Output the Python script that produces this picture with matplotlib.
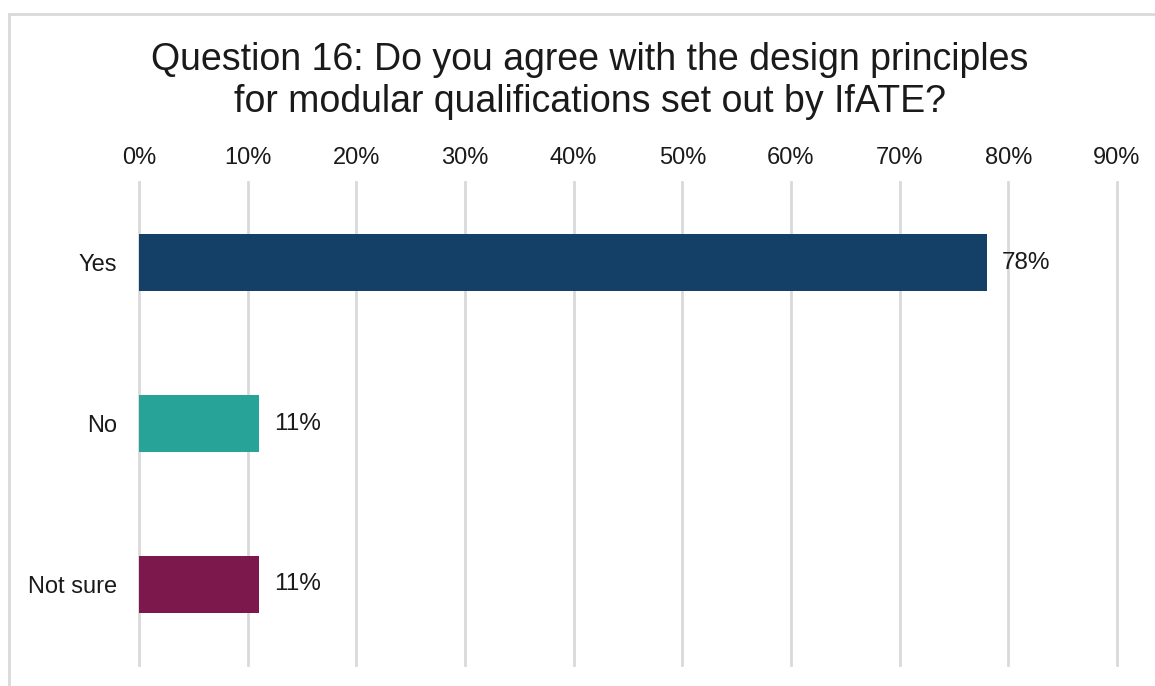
import matplotlib.pyplot as plt
from matplotlib.patches import Rectangle
from matplotlib.ticker import PercentFormatter

plt.rcParams['font.family'] = ['Liberation Sans', 'DejaVu Sans']

# survey answers, percent of respondents
answers = ['Yes', 'No', 'Not sure']
shares = [78, 11, 11]
bar_colors = ['#143F67', '#27A398', '#7C184C']
x_ticks = list(range(0, 100, 10))

fig = plt.figure(figsize=(11.55, 6.86), dpi=100)
ax = fig.add_axes([139/1155, 1 - 665/686, (1117-139)/1155, (665-182)/686])

ypos = list(range(len(answers)))
ax.barh(ypos, shares, height=0.355, color=bar_colors, zorder=3)
for y, v in zip(ypos, shares):
    ax.text(v + 1.4, y, f'{v}%', va='center', ha='left', fontsize=17.5, color='#1a1a1a')

ax.set_xlim(0, 90)
ax.set_ylim(2.5, -0.5)
ax.set_yticks(ypos)
ax.set_yticklabels(answers, fontsize=17)
ax.set_xticks(x_ticks)
ax.xaxis.set_major_formatter(PercentFormatter(decimals=0))
ax.xaxis.tick_top()
ax.tick_params(axis='x', length=0, pad=9, labelsize=17, colors='#1a1a1a')
ax.tick_params(axis='y', length=0, pad=16, labelsize=17, colors='#1a1a1a')
ax.grid(axis='x', color='#D9D9D9', linewidth=2, zorder=0)
for g in ax.get_xgridlines():
    g.set_clip_on(False)
for s in ax.spines.values():
    s.set_visible(False)

fig.text(590/1155, 1 - 81/686,
         'Question 16: Do you agree with the design principles\nfor modular qualifications set out by IfATE?',
         ha='center', va='center', fontsize=27, linespacing=1.2, color='#1a1a1a')

# light frame around the chart area
fig.patches.append(Rectangle((9/1155, -0.1), 1.2, 1 - 14/686 + 0.1, transform=fig.transFigure,
                             fill=False, edgecolor='#D9D9D9', linewidth=2))

fig.savefig('out.png', dpi=100)
